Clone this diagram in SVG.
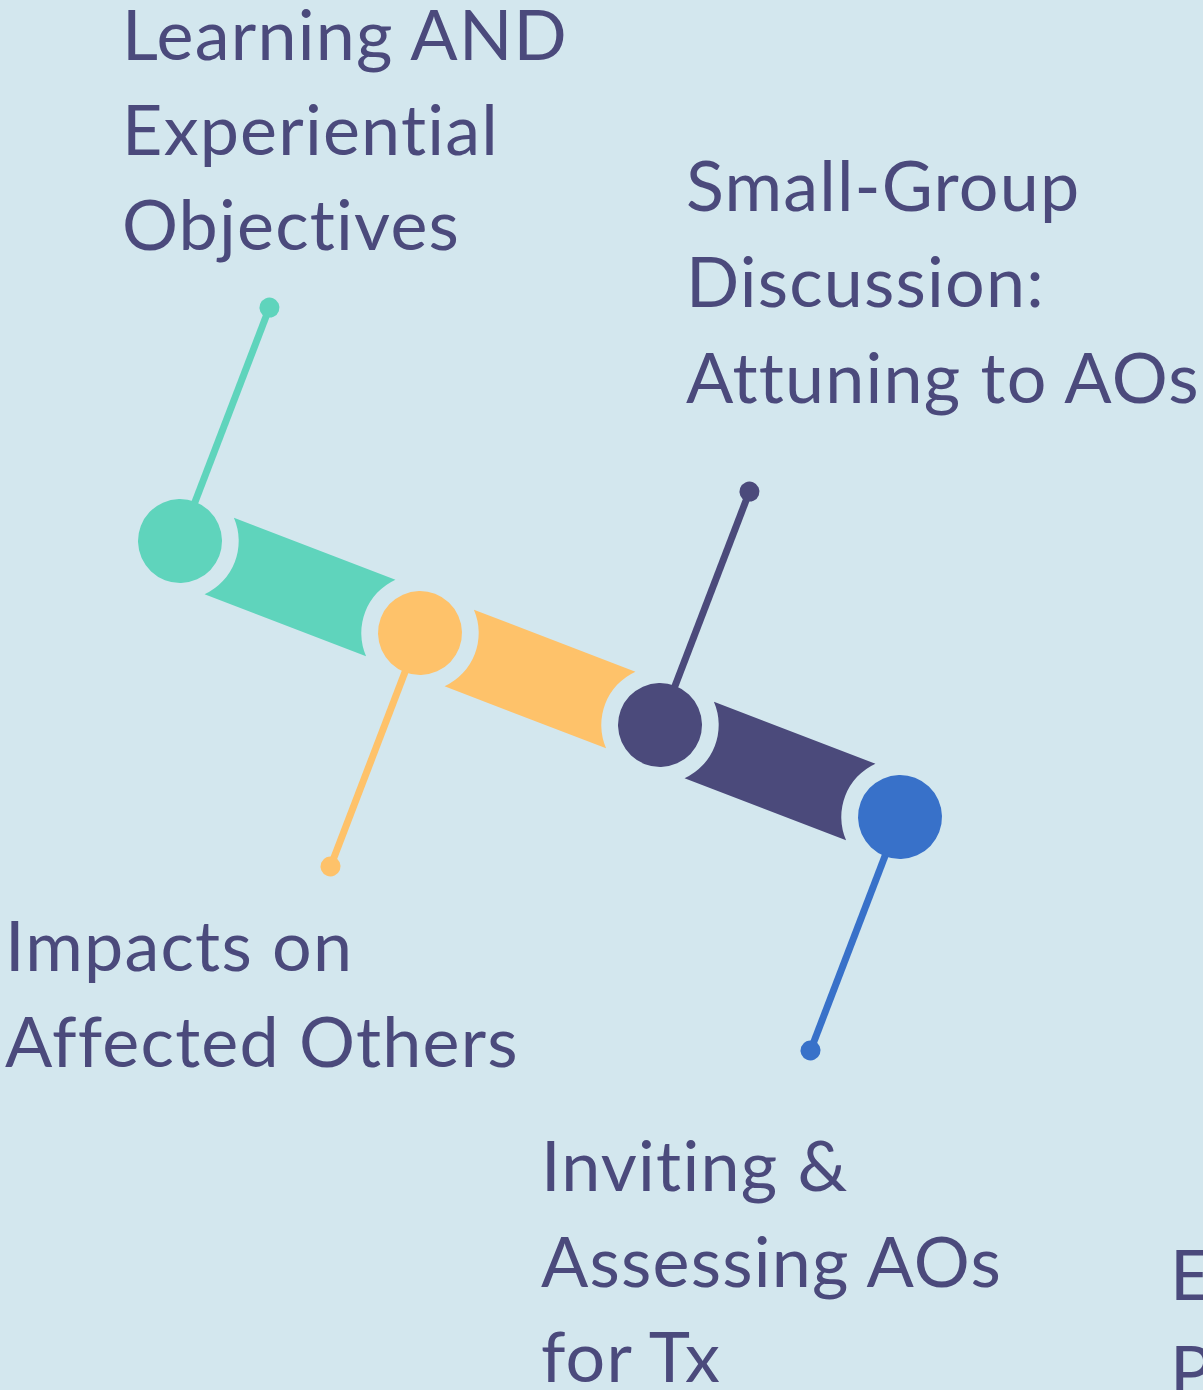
<svg xmlns="http://www.w3.org/2000/svg" width="1203" height="1390" viewBox="0 0 1203 1390">
<style>
.lbl{font-family:"Lato","Liberation Sans",sans-serif;font-weight:400;font-size:70px;fill:#4b4a7c;letter-spacing:1.2px;font-variant-ligatures:none;font-feature-settings:"liga" 0,"clig" 0}
.stem{stroke-width:7;fill:none}
</style>
<defs>
<path id="bar" d="M42,-41 L215,-41 A58.7,58.7 0 0 0 215,41 L42,41 A58.7,58.7 0 0 0 42,-41 Z"/>
</defs>
<rect width="1203" height="1390" fill="#d3e7ee"/>
<g id="connectors">
<use href="#bar" fill="#5fd4bc" transform="translate(180,541) rotate(20.97)"/>
<use href="#bar" fill="#fec26a" transform="translate(420,633) rotate(20.97)"/>
<use href="#bar" fill="#4b4a7b" transform="translate(660,725) rotate(20.97)"/>
</g>
<g id="node-learning">
<g transform="translate(180,541) rotate(20.97)">
<line class="stem" x1="0" y1="-40" x2="0" y2="-250" stroke="#5fd4bc"/>
<circle cx="0" cy="-250" r="10" fill="#5fd4bc"/>
<circle cx="0" cy="0" r="42" fill="#5fd4bc"/>
</g>
<text class="lbl" x="122" y="60">Learning AND</text>
<text class="lbl" x="122" y="155">Experiential</text>
<text class="lbl" x="122" y="250">Objectives</text>
</g>
<g id="node-impacts">
<g transform="translate(420,633) rotate(20.97)">
<line class="stem" x1="0" y1="40" x2="0" y2="250" stroke="#fec26a"/>
<circle cx="0" cy="250" r="10" fill="#fec26a"/>
<circle cx="0" cy="0" r="42" fill="#fec26a"/>
</g>
<text class="lbl" x="5" y="971">Impacts on</text>
<text class="lbl" x="5" y="1067">Affected Others</text>
</g>
<g id="node-smallgroup">
<g transform="translate(660,725) rotate(20.97)">
<line class="stem" x1="0" y1="-40" x2="0" y2="-250" stroke="#4b4a7b"/>
<circle cx="0" cy="-250" r="10" fill="#4b4a7b"/>
<circle cx="0" cy="0" r="42" fill="#4b4a7b"/>
</g>
<text class="lbl" x="686" y="211">Small-Group</text>
<text class="lbl" x="686" y="307">Discussion:</text>
<text class="lbl" x="686" y="403">Attuning to AOs</text>
</g>
<g id="node-inviting">
<g transform="translate(900,817) rotate(20.97)">
<line class="stem" x1="0" y1="40" x2="0" y2="250" stroke="#3871c9"/>
<circle cx="0" cy="250" r="10" fill="#3871c9"/>
<circle cx="0" cy="0" r="42" fill="#3871c9"/>
</g>
<text class="lbl" x="541" y="1191">Inviting &amp;</text>
<text class="lbl" x="541" y="1287">Assessing AOs</text>
<text class="lbl" x="541" y="1382">for Tx</text>
</g>
<g id="node-cut">
<text class="lbl" x="1170" y="1300">E</text>
<text class="lbl" x="1170" y="1396">P</text>
</g>
</svg>
